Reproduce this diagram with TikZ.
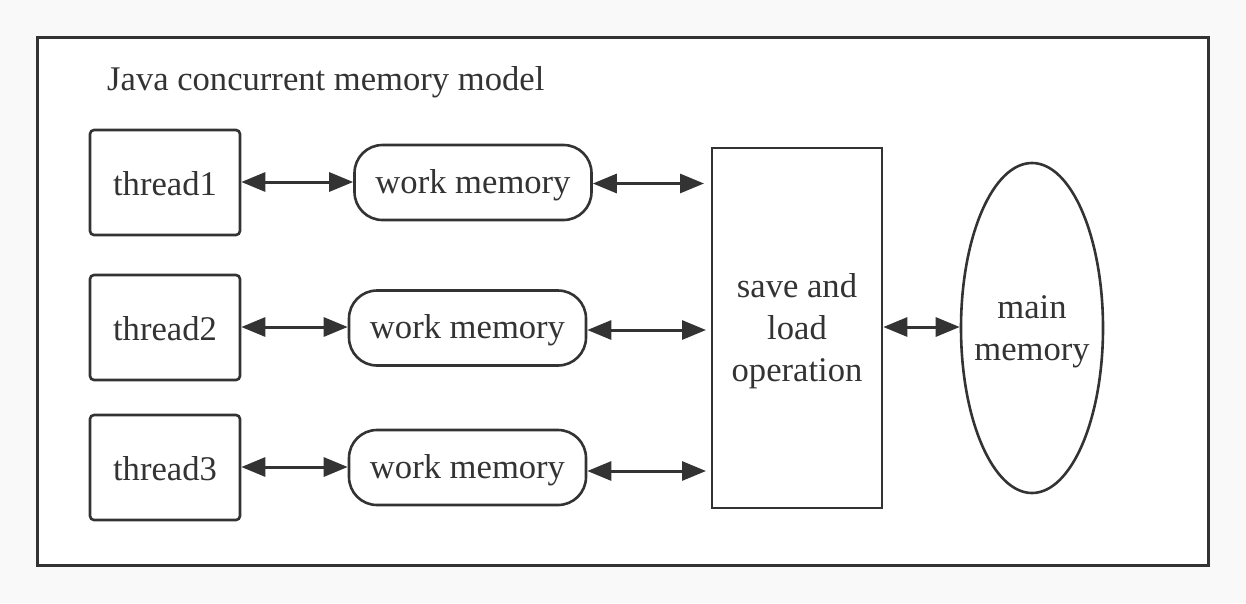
\documentclass[tikz,border=0pt]{standalone}
\usepackage{fontspec}
\setmainfont{Liberation Serif}
\usetikzlibrary{arrows.meta,shapes.geometric}
\definecolor{ink}{HTML}{333333}
\definecolor{bg}{HTML}{F9F9F9}
\begin{document}
\begin{tikzpicture}[x=1pt,y=-1pt,
  every node/.style={text=ink,font=\fontsize{34.6}{42}\selectfont},
  box/.style={draw=ink,line width=2.6pt,rounded corners=4pt,minimum width=150pt,minimum height=105pt,inner sep=0pt,text height=25pt,text depth=0pt},
  wmbox/.style={draw=ink,line width=2.6pt,rounded corners=28pt,minimum width=237pt,minimum height=75pt,inner sep=0pt,text height=23pt,text depth=2pt},
  link/.style={draw=ink,line width=3pt,{Triangle[length=24pt,width=19pt]}-{Triangle[length=24pt,width=19pt]}}]
\fill[bg] (0,0) rectangle (1246,603);
\useasboundingbox (0,0) rectangle (1246,603);
\node[draw=ink,line width=3pt,fill=white,minimum width=1171pt,minimum height=528pt,inner sep=0pt] (frame) at (622.5,301) {};
\node[anchor=base west,inner sep=0pt] (title) at (107,90) {Java concurrent memory model};
\node[box] (t1) at (165,182.5) {thread1};
\node[box] (t2) at (165,327.5) {thread2};
\node[box] (t3) at (165,467.5) {thread3};
\node[wmbox] (w1) at (473,182.5) {work memory};
\node[wmbox] (w2) at (467.5,328) {work memory};
\node[wmbox] (w3) at (467.5,467.5) {work memory};
\node[draw=ink,line width=2.6pt,minimum width=170pt,minimum height=360pt,inner sep=0pt] (sl) at (797,328) {};
\node[align=center,inner sep=0pt] (sltext) at (797,331) {save and\\[-0.5pt]load\\operation};
\node[draw=ink,line width=2.6pt,ellipse,minimum width=142pt,minimum height=330pt,inner sep=0pt] (mm) at (1032,328) {};
\node[align=center,inner sep=0pt] (mmtext) at (1032,332) {main\\memory};
\coordinate (s1) at (704,183.5);
\coordinate (s2) at (706,330);
\coordinate (s3) at (706,471);
\draw[link] (t1.east |- 0,182) -- (w1.west |- 0,182);
\draw[link] (t2.east |- 0,327) -- (w2.west |- 0,327);
\draw[link] (t3.east |- 0,467) -- (w3.west |- 0,467);
\draw[link] (w1.east |- s1) -- (s1);
\draw[link] (w2.east |- s2) -- (s2);
\draw[link] (w3.east |- s3) -- (s3);
\draw[link] (sl.east |- 0,327) -- (mm.west |- 0,327);
\end{tikzpicture}
\end{document}
